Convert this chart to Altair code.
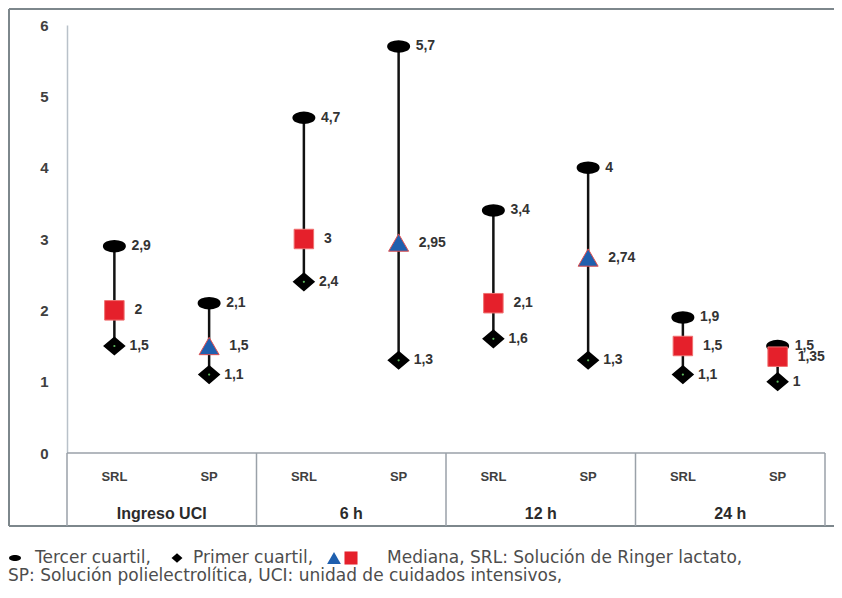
import altair as alt
import pandas as pd

# ---- data ----
groups = ["Ingreso UCI", "6 h", "12 h", "24 h"]
solutions = ["SRL", "SP"]
q3 = [2.9, 2.1, 4.7, 5.7, 3.4, 4.0, 1.9, 1.5]
median = [2.0, 1.5, 3.0, 2.95, 2.1, 2.74, 1.5, 1.35]
q1 = [1.5, 1.1, 2.4, 1.3, 1.6, 1.3, 1.1, 1.0]
median_marker = ["square", "triangle", "square", "triangle", "square", "triangle", "square", "square"]
y_ticks = [0, 1, 2, 3, 4, 5, 6]
legend_texts = [
    "Tercer cuartil,",
    "Primer cuartil,",
    "Mediana, SRL: Solución de Ringer lactato,",
    "SP: Solución polielectrolítica, UCI: unidad de cuidados intensivos,",
]


def fmt(v):
    return f"{v:g}".replace(".", ",")


rows = []
for i in range(len(q3)):
    gi, si = divmod(i, 2)
    rows.append(dict(
        group=groups[gi], sol=solutions[si], pos=gi * 2 + 0.5 + si,
        q1=q1[i], q3=q3[i], med=median[i], marker=median_marker[i],
        q1l=fmt(q1[i]), q3l=fmt(q3[i]), medl=fmt(median[i]),
    ))
df = pd.DataFrame(rows)
gdf = pd.DataFrame({"group": groups, "center": [i * 2 + 1 for i in range(len(groups))]})
sdf = pd.DataFrame({"sep": [i * 2 for i in range(len(groups) + 1)]})
one = pd.DataFrame({"a": [0]})

W, H = 758, 428
LABEL_FONT = "Liberation Sans, Arial"
LEG_FONT = "DejaVu Sans"

xs = alt.Scale(domain=[0, 8], nice=False, zero=False)
ys = alt.Scale(domain=[0, 6], nice=False)
yaxis = alt.Axis(values=y_ticks, format="d", title=None, grid=False, ticks=False,
                 labelFont=LABEL_FONT, labelFontSize=15, labelFontWeight="bold",
                 labelColor="#404040", labelPadding=19, domainColor="#b9c1c9",
                 domainWidth=1.5)

base = alt.Chart(df).encode(x=alt.X("pos:Q", scale=xs, axis=None))

# outer frame (its right side lies beyond the picture's edge)
fr = dict(color="#7d878c", strokeWidth=2)
frame_top = alt.Chart(one).mark_rule(**fr).encode(
    x=alt.value(-58), x2=alt.value(800), y=alt.value(-16))
frame_bottom = alt.Chart(one).mark_rule(**fr).encode(
    x=alt.value(-58), x2=alt.value(800), y=alt.value(501))
frame_left = alt.Chart(one).mark_rule(**fr).encode(
    x=alt.value(-58), y=alt.value(-16), y2=alt.value(501))

hline = alt.Chart(one).mark_rule(color="#9aa1a8", strokeWidth=1.5).encode(
    x=alt.value(0), x2=alt.value(W), y=alt.value(H))
seps = alt.Chart(sdf).mark_rule(color="#9aa1a8", strokeWidth=1.5).encode(
    x=alt.X("sep:Q", scale=xs, axis=None), y=alt.value(H), y2=alt.value(501))

rule = base.mark_rule(color="#111111", strokeWidth=2.5).encode(
    y=alt.Y("q1:Q", scale=ys, axis=yaxis), y2="q3:Q")

ellipse = "M-1,0A1,0.5,0,1,1,1,0A1,0.5,0,1,1,-1,0Z"
diamond = "M0,-0.85L1,0L0,0.85L-1,0Z"

q3pts = base.mark_point(shape=ellipse, size=441, filled=True, fill="black",
                        stroke="black", opacity=1).encode(y=alt.Y("q3:Q", scale=ys))
q1pts = base.mark_point(shape=diamond, size=380, filled=True, fill="black",
                        stroke="black", opacity=1).encode(y=alt.Y("q1:Q", scale=ys))
q1dot = base.mark_point(shape="circle", size=5, filled=True, fill="#5cb85c",
                        opacity=1).encode(y=alt.Y("q1:Q", scale=ys))
squares = base.transform_filter(alt.datum.marker == "square").mark_point(
    shape="square", size=380, filled=True, fill="#e5202b", stroke="#f07070",
    strokeWidth=1, opacity=1).encode(y=alt.Y("med:Q", scale=ys))
tris = base.transform_filter(alt.datum.marker == "triangle").mark_point(
    shape="triangle-up", size=400, filled=True, fill="#1f5fae", stroke="#e05050",
    strokeWidth=1, opacity=1).encode(y=alt.Y("med:Q", scale=ys))

lab = dict(align="left", baseline="middle", font=LABEL_FONT, fontSize=14,
           fontWeight="bold", color="#333333")
q3t = base.mark_text(dx=17, **lab).encode(y=alt.Y("q3:Q", scale=ys), text="q3l:N")
q1t = base.mark_text(dx=15, **lab).encode(y=alt.Y("q1:Q", scale=ys), text="q1l:N")
medt = base.mark_text(dx=20, **lab).encode(y=alt.Y("med:Q", scale=ys), text="medl:N")

soltxt = base.mark_text(baseline="middle", font=LABEL_FONT, fontSize=13,
                        fontWeight="bold", color="#404040").encode(
    y=alt.value(452), text="sol:N")
grptxt = alt.Chart(gdf).mark_text(baseline="middle", font=LABEL_FONT, fontSize=16,
                                  fontWeight="bold", color="#2b2b2b").encode(
    x=alt.X("center:Q", scale=xs, axis=None), y=alt.value(489), text="group:N")

# ---- legend below the chart ----
leg = dict(align="left", baseline="alphabetic", font=LEG_FONT, fontSize=17, color="#4d4d4d")
lt = []
for txt, px, py in [(legend_texts[0], -32, 538), (legend_texts[1], 126, 538),
                    (legend_texts[2], 320, 538), (legend_texts[3], -59, 556)]:
    lt.append(alt.Chart(pd.DataFrame({"t": [txt]})).mark_text(**leg).encode(
        x=alt.value(px), y=alt.value(py), text="t:N"))

lsym = [
    alt.Chart(one).mark_point(shape=ellipse, size=144, filled=True, fill="black", opacity=1).encode(
        x=alt.value(-52), y=alt.value(533)),
    alt.Chart(one).mark_point(shape=diamond, size=120, filled=True, fill="black", opacity=1).encode(
        x=alt.value(110), y=alt.value(533)),
    alt.Chart(one).mark_point(shape="triangle-up", size=190, filled=True, fill="#1f5fae", opacity=1).encode(
        x=alt.value(267), y=alt.value(533)),
    alt.Chart(one).mark_point(shape="square", size=170, filled=True, fill="#e5202b", opacity=1).encode(
        x=alt.value(284), y=alt.value(533)),
]

chart = alt.layer(
    frame_top, frame_bottom, frame_left, hline, seps, rule, q3pts, q1pts, q1dot,
    squares, tris, q3t, q1t, medt, soltxt, grptxt, *lt, *lsym
).properties(
    width=W, height=H,
    padding={"left": 59, "top": 17, "right": 9, "bottom": 132},
    autosize=alt.AutoSizeParams(type="none"),
).configure(background="white", view=alt.ViewConfig(stroke=None))

chart.save("out.html", embed_options={"renderer": "svg", "actions": False})
